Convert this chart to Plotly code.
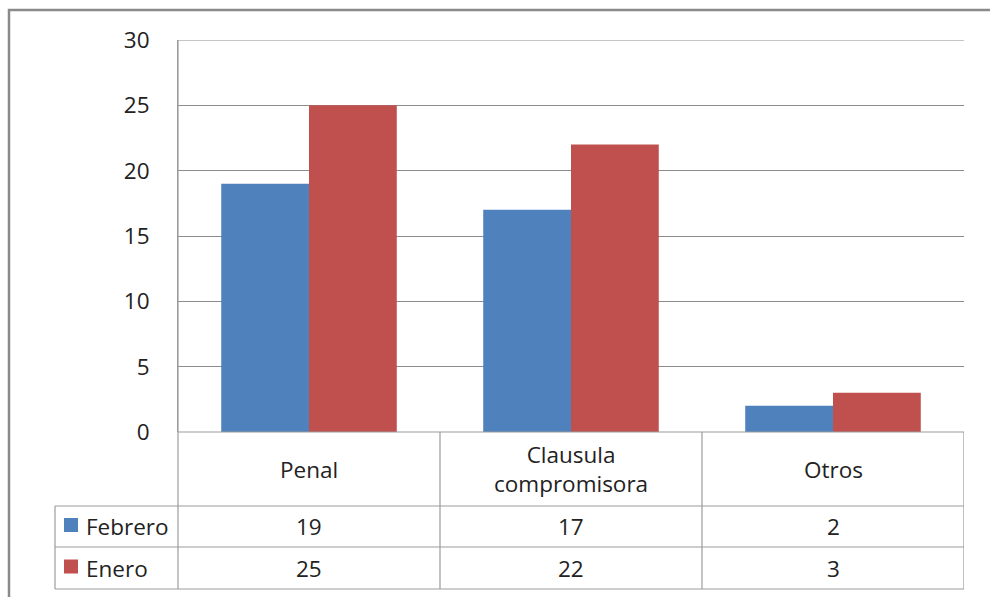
import plotly.graph_objects as go

categories = ["Penal", "Clausula<br>compromisora", "Otros"]
series_names = ["Febrero", "Enero"]
febrero = [19, 17, 2]
enero = [25, 22, 3]
series_values = [febrero, enero]
series_colors = ["#4F81BD", "#C0504D"]
y_ticks = [0, 5, 10, 15, 20, 25, 30]

W, H = 990, 597
FONT = "Open Sans"
FS = 22.5
TXT = "#222222"
GRID = "#8C8C8C"
TLINE = "#9C9C9C"

def fx(x):
    return x / W

def fy(y):
    return 1 - y / H

PL, PR, PT, PB = 178, 964, 40, 432
ROW_H1, ROW_F, ROW_E = 506, 547, 589
TBL_L = 55

fig = go.Figure()
for name, vals, col in zip(series_names, series_values, series_colors):
    fig.add_trace(go.Bar(x=list(range(len(categories))), y=vals, name=name,
                         marker=dict(color=col, line=dict(width=0))))

fig.update_layout(
    template="none",
    width=W, height=H, autosize=False,
    margin=dict(l=0, r=0, t=0, b=0, pad=0),
    paper_bgcolor="white", plot_bgcolor="white",
    showlegend=False,
    barmode="group", bargap=0.33, bargroupgap=0,
    font=dict(family=FONT, color=TXT, size=FS),
    xaxis=dict(domain=[fx(PL), fx(PR)], range=[-0.5, len(categories) - 0.5],
               showticklabels=False, showgrid=False, zeroline=False,
               showline=False, ticks="", automargin=False),
    yaxis=dict(domain=[fy(PB), fy(PT)], range=[0, max(y_ticks)], tickvals=y_ticks,
               showgrid=True, gridcolor=GRID, gridwidth=1, zeroline=False,
               showline=True, linecolor=TLINE, linewidth=1, ticks="",
               ticklabelstandoff=23, automargin=False,
               tickfont=dict(family=FONT, size=FS, color=TXT)),
)

shapes = []
# outer border
shapes.append(dict(type="rect", xref="paper", yref="paper",
                   x0=fx(9), x1=fx(1000), y0=fy(607), y1=fy(10),
                   line=dict(color="#8A8A8A", width=2.5), fillcolor="rgba(0,0,0,0)", layer="below"))
# top gridline
shapes.append(dict(type="line", xref="paper", yref="y",
                   x0=fx(PL), x1=fx(PR), y0=max(y_ticks), y1=max(y_ticks),
                   line=dict(color=GRID, width=1)))
# table horizontal lines
for y, x0 in [(PB, PL), (ROW_H1, TBL_L), (ROW_F, TBL_L), (ROW_E, TBL_L)]:
    shapes.append(dict(type="line", xref="paper", yref="paper",
                       x0=fx(x0), x1=fx(PR), y0=fy(y), y1=fy(y),
                       line=dict(color=TLINE, width=1.2)))
# left vertical of table
shapes.append(dict(type="line", xref="paper", yref="paper",
                   x0=fx(TBL_L), x1=fx(TBL_L), y0=fy(ROW_H1), y1=fy(ROW_E),
                   line=dict(color=TLINE, width=1.2)))
shapes.append(dict(type="line", xref="paper", yref="paper",
                   x0=fx(PL), x1=fx(PL), y0=fy(PT), y1=fy(ROW_E),
                   line=dict(color=TLINE, width=1.2)))
# category boundaries
for i in range(len(categories)):
    xb = i + 0.5
    shapes.append(dict(type="line", xref="x", yref="paper",
                       x0=xb, x1=xb, y0=fy(PB), y1=fy(ROW_E),
                       line=dict(color=TLINE, width=1.2)))
# legend keys
row_centers = [(ROW_H1 + ROW_F) / 2, (ROW_F + ROW_E) / 2]
for yc, col in zip(row_centers, series_colors):
    shapes.append(dict(type="rect", xref="paper", yref="paper",
                       x0=fx(64), x1=fx(78), y0=fy(yc + 5.5), y1=fy(yc - 8.5),
                       line=dict(width=0), fillcolor=col))

annotations = []
hdr_c = (PB + ROW_H1) / 2
for i, c in enumerate(categories):
    annotations.append(dict(x=i, y=fy(hdr_c), xref="x", yref="paper", text=c,
                            showarrow=False, xanchor="center", yanchor="middle",
                            font=dict(family=FONT, size=FS, color=TXT)))
for name, vals, yc in zip(series_names, series_values, row_centers):
    annotations.append(dict(x=fx(84), y=fy(yc), xref="paper", yref="paper", text=name,
                            showarrow=False, xanchor="left", yanchor="middle",
                            font=dict(family=FONT, size=FS, color=TXT)))
    for i, v in enumerate(vals):
        annotations.append(dict(x=i, y=fy(yc), xref="x", yref="paper", text=str(v),
                                showarrow=False, xanchor="center", yanchor="middle",
                                font=dict(family=FONT, size=FS, color=TXT)))

fig.update_layout(shapes=shapes, annotations=annotations)
fig.write_html("out.html", config={"displayModeBar": False},
               post_script="document.body.style.margin='0';document.body.style.overflow='hidden';")
